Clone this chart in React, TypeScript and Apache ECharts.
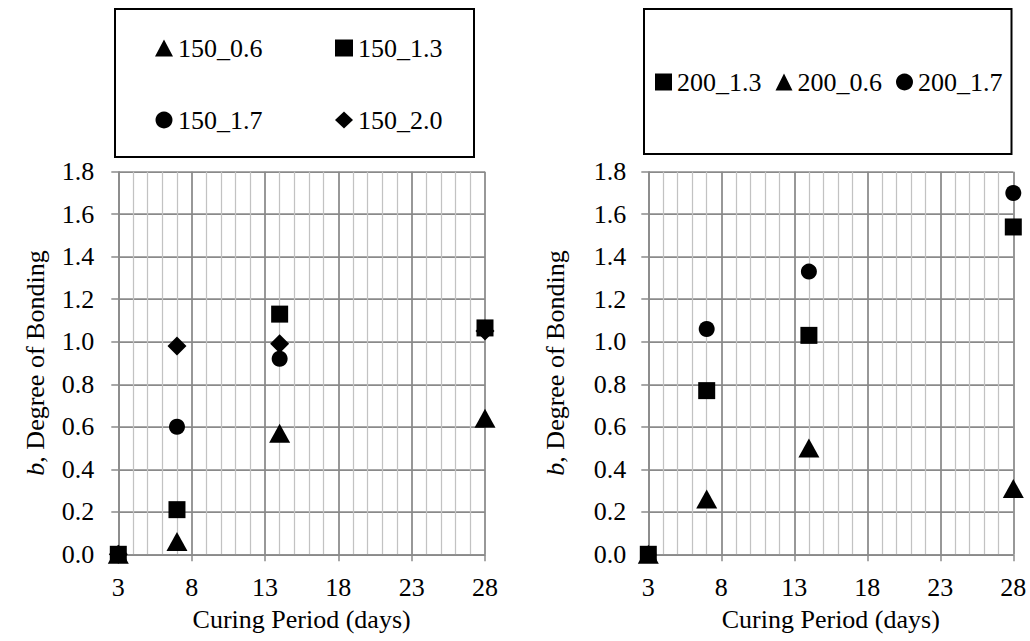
import React, { useEffect, useRef } from "react";
import * as echarts from "echarts";

// ---- data ----
const DAYS = [3, 7, 14, 28];
const X_START = 3;
const X_END = 28;
const X_STEP = 5;
const Y_MIN = 0;
const Y_MAX = 1.8;
const Y_STEP = 0.2;

const S150_06 = [0, 0.06, 0.57, 0.64];
const S150_13 = [0, 0.21, 1.13, 1.065];
const S150_17 = [0, 0.6, 0.92, 1.06];
const S150_20 = [0, 0.98, 0.99, 1.05];

const S200_13 = [0, 0.77, 1.03, 1.54];
const S200_06 = [0, 0.26, 0.5, 0.31];
const S200_17 = [0, 1.06, 1.33, 1.7];

const LEFT_NAMES = ["150_0.6", "150_1.3", "150_1.7", "150_2.0"];
const RIGHT_NAMES = ["200_1.3", "200_0.6", "200_1.7"];

const X_TITLE = "Curing Period (days)";

// ---- styles ----
const FONT = "Liberation Serif";
const FS = 26;
const MAJOR = "#8a8a8a";
const MINOR = "#c2c2c2";

const toPts = (vals: number[]) => DAYS.map((d, i) => [d - X_START, vals[i]]);

function xAxis(gridIndex: number) {
  return {
    type: "value",
    gridIndex,
    min: 0,
    max: X_END - X_START,
    interval: X_STEP,
    name: X_TITLE,
    nameLocation: "middle",
    nameGap: 52,
    nameTextStyle: { fontFamily: FONT, fontSize: FS, color: "#000" },
    axisLine: { show: true, onZero: false, lineStyle: { color: MAJOR, width: 1.5 } },
    axisTick: { show: true, length: 7, lineStyle: { color: MAJOR, width: 1.5 } },
    axisLabel: {
      margin: 20,
      fontFamily: FONT,
      fontSize: FS,
      color: "#000",
      formatter: (v: number) => String(v + X_START),
    },
    splitLine: { show: true, lineStyle: { color: MAJOR, width: 1.75 } },
    minorTick: { show: false, splitNumber: 5 },
    minorSplitLine: { show: true, lineStyle: { color: MINOR, width: 1.25 } },
  };
}

function yAxis(gridIndex: number, nameGap: number, labelMargin: number) {
  return {
    type: "value",
    gridIndex,
    min: Y_MIN,
    max: Y_MAX,
    interval: Y_STEP,
    name: "{i|b}, Degree of Bonding",
    nameLocation: "middle",
    nameGap,
    nameTextStyle: {
      fontFamily: FONT,
      fontSize: FS,
      color: "#000",
      rich: { i: { fontFamily: FONT, fontSize: FS, fontStyle: "italic", color: "#000" } },
    },
    axisLine: { show: true, onZero: false, lineStyle: { color: MAJOR, width: 1.5 } },
    axisTick: { show: true, length: 7, lineStyle: { color: MAJOR, width: 1.5 } },
    axisLabel: {
      margin: labelMargin,
      fontFamily: FONT,
      fontSize: FS,
      color: "#000",
      formatter: (v: number) => v.toFixed(1),
    },
    splitLine: { show: true, lineStyle: { color: MAJOR, width: 1.75 } },
  };
}

function scatter(name: string, vals: number[], symbol: string, size: any, idx: number) {
  return {
    type: "scatter",
    name,
    xAxisIndex: idx,
    yAxisIndex: idx,
    data: toPts(vals),
    symbol,
    symbolSize: size,
    itemStyle: { color: "#000", opacity: 1 },
    emphasis: { disabled: true },
  };
}

const TRI = [21, 19];
const SQ = 17;
const CIR = 16;
const DIA = [19, 19];

export default function App() {
  const ref = useRef<HTMLDivElement>(null);
  useEffect(() => {
    if (!ref.current) return;
    const chart = echarts.init(ref.current, null, { renderer: "svg" });
    const legendText = { fontFamily: FONT, fontSize: FS, color: "#000", lineHeight: 24 };
    chart.setOption({
      animation: false,
      backgroundColor: "#fff",
      textStyle: { fontFamily: FONT },
      grid: [
        { left: 118.3, right: 545, top: 171.7, bottom: 86.7 },
        { left: 648.3, right: 16.7, top: 171.7, bottom: 86.7 },
      ],
      xAxis: [xAxis(0), xAxis(1)],
      yAxis: [yAxis(0, 70, 24), yAxis(1, 80, 22)],
      legend: [
        {
          data: LEFT_NAMES,
          orient: "horizontal",
          left: 115,
          top: 9,
          width: 320,
          itemWidth: 18,
          itemHeight: 17,
          itemGap: 46,
          padding: [26, 5, 24, 40],
          borderColor: "#000",
          borderWidth: 2,
          selectedMode: false,
          textStyle: { ...legendText, width: 111 },
        },
        {
          data: RIGHT_NAMES,
          orient: "horizontal",
          left: 644,
          top: 9,
          itemWidth: 17,
          itemHeight: 17,
          itemGap: 14,
          padding: [60, 9, 59, 11],
          borderColor: "#000",
          borderWidth: 2,
          selectedMode: false,
          textStyle: legendText,
        },
      ],
      series: [
        scatter("150_0.6", S150_06, "triangle", TRI, 0),
        scatter("150_1.3", S150_13, "rect", SQ, 0),
        scatter("150_1.7", S150_17, "circle", CIR, 0),
        scatter("150_2.0", S150_20, "diamond", DIA, 0),
        scatter("200_1.3", S200_13, "rect", SQ, 1),
        scatter("200_0.6", S200_06, "triangle", TRI, 1),
        scatter("200_1.7", S200_17, "circle", CIR, 1),
      ],
    });
    return () => chart.dispose();
  }, []);
  return (
    <div
      ref={ref}
      style={{ position: "absolute", left: 0, top: 0, width: 1030, height: 641, background: "#fff" }}
    />
  );
}
